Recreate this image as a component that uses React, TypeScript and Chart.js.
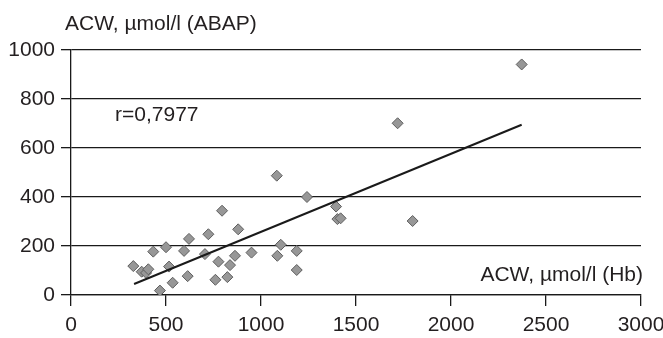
import React, { useEffect, useRef } from "react";
import { Chart, registerables } from "chart.js";

Chart.register(...registerables);

// Scatter values: ACW µmol/l (Hb) on x, ACW µmol/l (ABAP) on y
const hbValues = [328, 372, 395, 407, 433, 468, 500, 516, 535, 595, 614, 621, 705, 723, 760, 776, 795, 823, 837, 863, 880, 950, 1083, 1086, 1104, 1188, 1188, 1242, 1395, 1402, 1419, 1719, 1798, 2372];
const abapValues = [118, 95, 90, 105, 177, 18, 195, 116, 50, 180, 77, 229, 167, 248, 62, 136, 344, 73, 122, 160, 268, 173, 487, 160, 205, 180, 102, 400, 361, 310, 313, 701, 302, 941];

// Regression line end points
const trendX = [332, 2372];
const trendY = [45, 695];

const xTicks = [0, 500, 1000, 1500, 2000, 2500, 3000];
const yTicks = [0, 200, 400, 600, 800, 1000];

const yTitle = "ACW, µmol/l (ABAP)";
const xTitle = "ACW, µmol/l (Hb)";
const rLabel = "r=0,7977";

const FONT = "'Liberation Sans', Arial, Helvetica, sans-serif";
const TEXT = "#231f20";

export default function App() {
  const ref = useRef<HTMLCanvasElement | null>(null);

  useEffect(() => {
    if (!ref.current) return;
    const textPlugin = {
      id: "texts",
      afterDraw(chart: any) {
        const ctx = chart.ctx;
        ctx.save();
        ctx.fillStyle = TEXT;
        ctx.font = `21px ${FONT}`;
        ctx.textBaseline = "alphabetic";
        ctx.textAlign = "left";
        ctx.fillText(yTitle, 65, 30);
        ctx.fillText(rLabel, 115, 121);
        ctx.textAlign = "right";
        ctx.fillText(xTitle, 643, 281);
        ctx.restore();
      },
    };
    const chart = new Chart(ref.current, {
      type: "scatter",
      data: {
        datasets: [
          {
            label: "trend",
            data: trendX.map((x, i) => ({ x, y: trendY[i] })),
            showLine: true,
            borderColor: "#1a1a1a",
            borderWidth: 2,
            pointRadius: 0,
            order: 0,
          },
          {
            label: "points",
            data: hbValues.map((x, i) => ({ x, y: abapValues[i] })),
            pointStyle: "rectRot",
            pointRadius: 5.5,
            backgroundColor: "#979797",
            borderColor: "#5e5e5e",
            borderWidth: 1,
            order: 1,
          },
        ],
      },
      options: {
        responsive: false,
        animation: false,
        layout: { padding: { top: 50, right: 22, left: 0, bottom: 0 } },
        plugins: { legend: { display: false }, tooltip: { enabled: false } },
        scales: {
          x: {
            type: "linear",
            min: 0,
            max: 3000,
            afterBuildTicks: (scale: any) => {
              scale.ticks = xTicks.map((v) => ({ value: v }));
            },
            afterFit: (scale: any) => {
              scale.height = 43;
              scale.paddingLeft = 0;
              scale.paddingRight = 0;
            },
            grid: { drawOnChartArea: false, drawTicks: true, tickLength: 11, color: "#1a1a1a", lineWidth: 1.3 },
            border: { display: true, color: "#1a1a1a", width: 1.3 },
            ticks: {
              color: TEXT,
              font: { family: FONT, size: 21 },
              padding: 7,
              maxRotation: 0,
              callback: (v: any) => String(v),
            },
          },
          y: {
            type: "linear",
            min: 0,
            max: 1000,
            afterBuildTicks: (scale: any) => {
              scale.ticks = yTicks.map((v) => ({ value: v }));
            },
            afterFit: (scale: any) => {
              scale.width = 71;
              scale.paddingTop = 0;
              scale.paddingBottom = 0;
            },
            grid: { drawOnChartArea: true, drawTicks: true, tickLength: 10, color: "#1a1a1a", lineWidth: 1.3 },
            border: { display: true, color: "#1a1a1a", width: 1.3 },
            ticks: {
              color: TEXT,
              font: { family: FONT, size: 21 },
              padding: 6,
              callback: (v: any) => String(v),
            },
          },
        },
      },
      plugins: [textPlugin],
    });
    return () => chart.destroy();
  }, []);

  return (
    <div style={{ position: "fixed", left: 0, top: 0, width: 663, height: 338, background: "#fff" }}>
      <canvas ref={ref} width={663} height={338} style={{ display: "block", width: 663, height: 338 }} />
    </div>
  );
}
